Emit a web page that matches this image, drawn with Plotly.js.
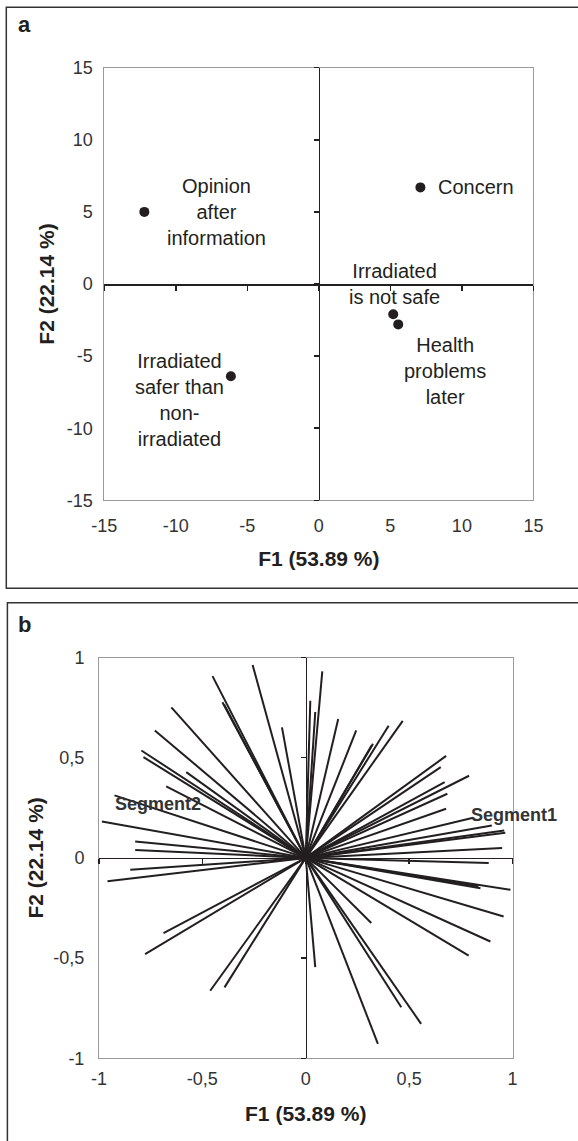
<!DOCTYPE html>
<html>
<head>
<meta charset="utf-8">
<script src="https://cdn.plot.ly/plotly-3.0.1.min.js"></script>
<style>html,body{margin:0;padding:0;background:#fff;}#chart{width:578px;height:1141px;}</style>
</head>
<body>
<div id="chart"></div>
<script>
// ---- Panel a: factor scores of the variables ----
const aLabels = ["Opinion<br>after<br>information", "Concern", "Irradiated<br>is not safe", "Health<br>problems<br>later", "Irradiated<br>safer than<br>non-<br>irradiated"];
const aF1 = [-12.2, 7.1, 5.2, 5.55, -6.15];
const aF2 = [5.0, 6.7, -2.1, -2.8, -6.4];
const aTicks = [-15, -10, -5, 0, 5, 10, 15];
const aTickText = ["-15", "-10", "-5", "0", "5", "10", "15"];

// ---- Panel b: correlation circle loadings (line end points) ----
const bF1 = [
  -0.257, -0.451, -0.403, -0.395, -0.115, -0.650, -0.730, -0.795, -0.785, -0.578, -0.675, -0.925, -0.986, -0.825, -0.825,
  0.080, 0.022, 0.046, 0.157, 0.244, 0.401, 0.469, 0.325, 0.318, 0.679, 0.653, 0.790, 0.672, 0.685, 0.679, 0.810, 0.900, 0.960, 0.965, 0.950,
  0.885, 0.845, 0.835, 0.990, 0.957, 0.893, 0.788, 0.317, 0.046, 0.462, 0.558, 0.349,
  -0.849, -0.959, -0.688, -0.777, -0.462, -0.393
];
const bF2 = [
  0.963, 0.907, 0.777, 0.765, 0.651, 0.751, 0.636, 0.536, 0.503, 0.428, 0.357, 0.312, 0.182, 0.082, 0.040,
  0.931, 0.784, 0.728, 0.693, 0.636, 0.659, 0.684, 0.569, 0.560, 0.509, 0.453, 0.410, 0.378, 0.320, 0.245, 0.200, 0.162, 0.137, 0.125, 0.050,
  -0.026, -0.151, -0.142, -0.159, -0.292, -0.417, -0.488, -0.325, -0.545, -0.745, -0.828, -0.928,
  -0.059, -0.117, -0.375, -0.480, -0.663, -0.646
];
const segment2Index = 11;
const segment1Index = 30;
const bTicks = [-1, -0.5, 0, 0.5, 1];
const bTickText = ["-1", "-0,5", "0", "0,5", "1"];

const axisTitle = "F1 (53.89 %)";
const ordTitle = "F2 (22.14 %)";

// ---- styling ----
const FONT = "Liberation Sans, Arial, Helvetica, sans-serif";
const INK = "#231f20";
const TICKCOL = "#333333";

const aDomX = [104.3 / 578, 533.4 / 578];
const aDomY = [1 - 500.3 / 1141, 1 - 67.7 / 1141];
const bDomX = [99 / 578, 512.5 / 578];
const bDomY = [1 - 1058.3 / 1141, 1 - 657.5 / 1141];

// line segments from origin for panel b
const segX = [], segY = [];
for (let i = 0; i < bF1.length; i++) { segX.push(0, bF1[i], null); segY.push(0, bF2[i], null); }

const traces = [
  { type: "scatter", mode: "markers", x: aF1, y: aF2, xaxis: "x", yaxis: "y",
    marker: { size: 10, color: INK }, hoverinfo: "skip", showlegend: false },
  { type: "scatter", mode: "lines", x: segX, y: segY, xaxis: "x2", yaxis: "y2",
    line: { color: INK, width: 2 }, hoverinfo: "skip", showlegend: false },
  // carriers for the zero-crossing axes
  { type: "scatter", mode: "markers", x: [null], y: [null], xaxis: "x3", yaxis: "y", showlegend: false, hoverinfo: "skip" },
  { type: "scatter", mode: "markers", x: [null], y: [null], xaxis: "x", yaxis: "y3", showlegend: false, hoverinfo: "skip" },
  { type: "scatter", mode: "markers", x: [null], y: [null], xaxis: "x4", yaxis: "y2", showlegend: false, hoverinfo: "skip" },
  { type: "scatter", mode: "markers", x: [null], y: [null], xaxis: "x2", yaxis: "y4", showlegend: false, hoverinfo: "skip" }
];

function frameAxis(domain, range, vals, text, anchor, title, standoff, ticklen) {
  return {
    domain: domain, range: range, anchor: anchor, fixedrange: true,
    showline: true, mirror: true, linecolor: "#9a9a9a", linewidth: 1,
    showgrid: false, zeroline: false,
    tickmode: "array", tickvals: vals, ticktext: text,
    ticks: "outside", ticklen: ticklen, tickcolor: "rgba(0,0,0,0)",
    tickfont: { family: FONT, size: 18, color: TICKCOL },
    title: { text: "<b>" + title + "</b>", standoff: standoff, font: { family: FONT, size: 21, color: INK } }
  };
}
function crossAxis(domain, range, vals, overlay, position) {
  return {
    domain: domain, range: range, overlaying: overlay, anchor: "free", position: position, fixedrange: true,
    showline: true, linecolor: INK, linewidth: 1.5, showgrid: false, zeroline: false,
    tickmode: "array", tickvals: vals, ticks: "outside", ticklen: 5, tickwidth: 1.5, tickcolor: INK,
    showticklabels: false
  };
}

const layout = {
  width: 578, height: 1141,
  margin: { l: 0, r: 0, t: 0, b: 0 },
  paper_bgcolor: "#ffffff", plot_bgcolor: "#ffffff",
  showlegend: false,
  font: { family: FONT, color: INK },
  xaxis: frameAxis(aDomX, [-15, 15], aTicks, aTickText, "y", axisTitle, 16, 9),
  yaxis: frameAxis(aDomY, [-15, 15], aTicks, aTickText, "x", ordTitle, 6, 7),
  xaxis2: frameAxis(bDomX, [-1, 1], bTicks, bTickText, "y2", axisTitle, 18, 4),
  yaxis2: frameAxis(bDomY, [-1, 1], bTicks, bTickText, "x2", ordTitle, 4, 10),
  xaxis3: crossAxis(aDomX, [-15, 15], aTicks, "x", (aDomY[0] + aDomY[1]) / 2),
  yaxis3: crossAxis(aDomY, [-15, 15], aTicks, "y", (aDomX[0] + aDomX[1]) / 2),
  xaxis4: crossAxis(bDomX, [-1, 1], bTicks, "x2", (bDomY[0] + bDomY[1]) / 2),
  yaxis4: crossAxis(bDomY, [-1, 1], bTicks, "y2", (bDomX[0] + bDomX[1]) / 2),
  shapes: [
    { type: "rect", xref: "paper", yref: "paper", x0: 6.3 / 578, x1: 1.01, y0: 1 - 588.3 / 1141, y1: 1 - 7.3 / 1141,
      line: { color: "#333333", width: 1.5 }, layer: "below" },
    { type: "rect", xref: "paper", yref: "paper", x0: 7.4 / 578, x1: 1.01, y0: -0.01, y1: 1 - 602.7 / 1141,
      line: { color: "#333333", width: 1.5 }, layer: "below" }
  ],
  annotations: []
};

// panel letters
layout.annotations.push(
  { xref: "paper", yref: "paper", x: 24 / 578, y: 1 - 25 / 1141, text: "<b>a</b>", showarrow: false,
    xanchor: "center", yanchor: "middle", font: { family: FONT, size: 22, color: INK } },
  { xref: "paper", yref: "paper", x: 24 / 578, y: 1 - 624.5 / 1141, text: "<b>b</b>", showarrow: false,
    xanchor: "center", yanchor: "middle", font: { family: FONT, size: 22, color: INK } }
);

// panel a point labels, offset from each point
const aOffsets = [
  { xs: 72.6, ys: 0, xa: "center" },
  { xs: 16, ys: 0, xa: "left" },
  { xs: 1, ys: 30.5, xa: "center" },
  { xs: 46.8, ys: -46.7, xa: "center" },
  { xs: -51.2, ys: -23.7, xa: "center" }
];
for (let i = 0; i < aLabels.length; i++) {
  layout.annotations.push({
    xref: "x", yref: "y", x: aF1[i], y: aF2[i], text: aLabels[i], showarrow: false,
    xanchor: aOffsets[i].xa, yanchor: "middle", xshift: aOffsets[i].xs, yshift: aOffsets[i].ys,
    align: "center", font: { family: FONT, size: 20, color: INK }
  });
}

// panel b segment labels
layout.annotations.push(
  { xref: "x2", yref: "y2", x: bF1[segment2Index], y: bF2[segment2Index], text: "<b>Segment2</b>", showarrow: false,
    xanchor: "left", yanchor: "middle", xshift: -2, yshift: -9, font: { family: FONT, size: 18, color: "#333333" } },
  { xref: "x2", yref: "y2", x: bF1[segment1Index], y: bF2[segment1Index], text: "<b>Segment1</b>", showarrow: false,
    xanchor: "left", yanchor: "middle", xshift: -4, yshift: 3, font: { family: FONT, size: 18, color: "#333333" } }
);

Plotly.newPlot("chart", traces, layout, { staticPlot: true, displayModeBar: false });
</script>
</body>
</html>
